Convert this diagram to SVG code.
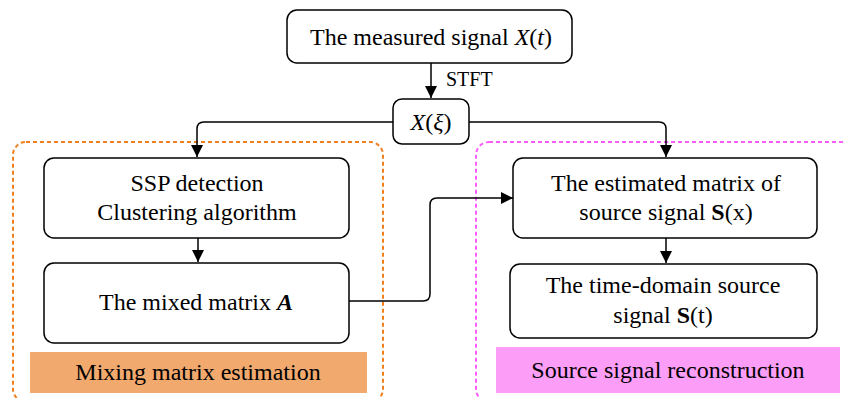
<svg xmlns="http://www.w3.org/2000/svg" width="846" height="398" viewBox="0 0 846 398">
<defs>
<marker id="ah" viewBox="0 0 12 12" refX="12" refY="6" markerWidth="12" markerHeight="12" markerUnits="userSpaceOnUse" orient="auto">
<path d="M0,0 L12,6 L0,12 z" fill="#000"/>
</marker>
<style>
.box{fill:#fff;stroke:#000;stroke-width:1.5}
.t{font-family:"Liberation Serif","Times New Roman",serif;font-size:24px;fill:#000;text-anchor:middle}
.c{fill:none;stroke:#000;stroke-width:1.5}
.grp{fill:none;stroke-width:2;stroke-dasharray:4,3}
</style>
</defs>
<rect width="846" height="398" fill="#fff"/>
<g id="group-left">
<rect class="grp" x="13" y="142" width="370" height="260" rx="13" stroke="#F07F1E"/>
<rect x="30" y="352" width="337" height="41" fill="#F1A96E"/>
<text class="t" x="198" y="380">Mixing matrix estimation</text>
</g>
<g id="group-right">
<rect class="grp" x="476" y="142" width="390" height="260" rx="13" stroke="#FF5CFF"/>
<rect x="496" y="347" width="344" height="46" fill="#FC9EF8"/>
<text class="t" x="668" y="378">Source signal reconstruction</text>
</g>
<g id="connectors">
<path class="c" d="M431,63 V98" marker-end="url(#ah)"/>
<path class="c" d="M393,122 H204 Q197,122 197,129 V157" marker-end="url(#ah)"/>
<path class="c" d="M469,122 H659 Q666,122 666,129 V157" marker-end="url(#ah)"/>
<path class="c" d="M198,238 V262" marker-end="url(#ah)"/>
<path class="c" d="M666,238 V263" marker-end="url(#ah)"/>
<path class="c" d="M349,301 H423 Q430,301 430,294 V205 Q430,198 437,198 H513" marker-end="url(#ah)"/>
<text x="446" y="86" font-family="Liberation Serif, serif" font-size="20" fill="#000">STFT</text>
</g>
<g id="n-measured">
<rect class="box" x="287" y="10" width="285" height="53" rx="10"/>
<text class="t" x="431" y="45">The measured signal <tspan font-style="italic">X</tspan>(<tspan font-style="italic">t</tspan>)</text>
</g>
<g id="n-xxi">
<rect class="box" x="393" y="99" width="76" height="45" rx="9"/>
<text class="t" x="431" y="130"><tspan font-style="italic">X</tspan>(<tspan font-style="italic">ξ</tspan>)</text>
</g>
<g id="n-ssp">
<rect class="box" x="44" y="158" width="305" height="80" rx="10"/>
<text class="t" x="197" y="191">SSP detection</text>
<text class="t" x="197" y="220">Clustering algorithm</text>
</g>
<g id="n-mixed">
<rect class="box" x="44" y="263" width="305" height="80" rx="10"/>
<text class="t" x="196" y="310">The mixed matrix <tspan font-weight="bold" font-style="italic">A</tspan></text>
</g>
<g id="n-est">
<rect class="box" x="513" y="158" width="304" height="80" rx="10"/>
<text class="t" x="666" y="191">The estimated matrix of</text>
<text class="t" x="666" y="220">source signal <tspan font-weight="bold">S</tspan>(x)</text>
</g>
<g id="n-time">
<rect class="box" x="510" y="264" width="307" height="74" rx="10"/>
<text class="t" x="663" y="293">The time-domain source</text>
<text class="t" x="663" y="323">signal <tspan font-weight="bold">S</tspan>(t)</text>
</g>
</svg>
